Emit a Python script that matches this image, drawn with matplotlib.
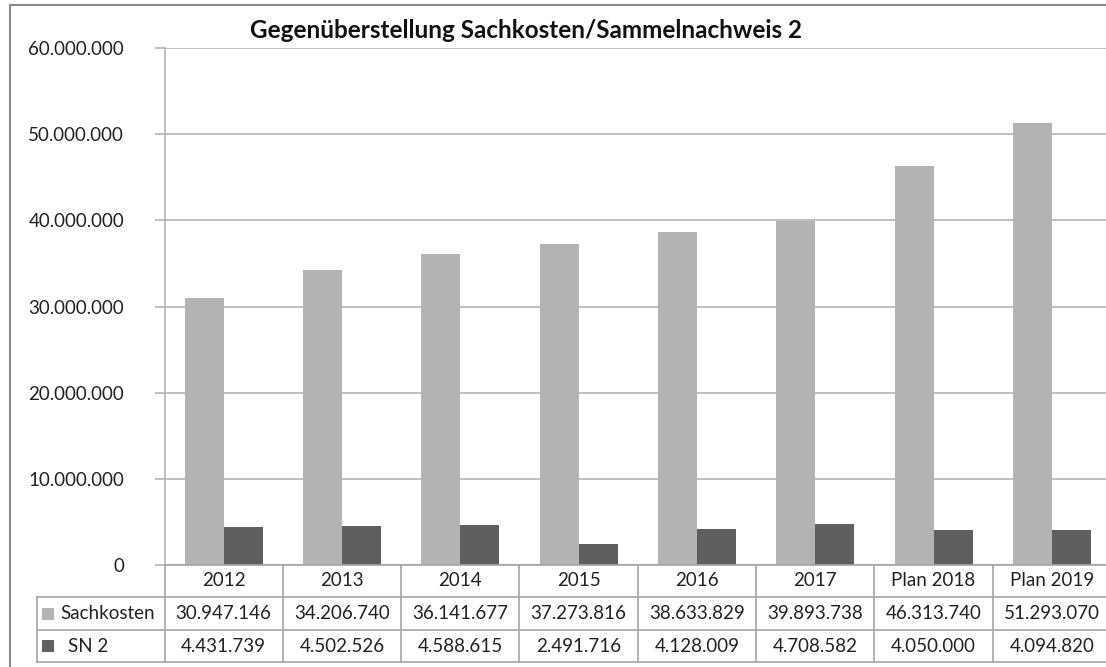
import matplotlib
matplotlib.use("Agg")
import matplotlib.pyplot as plt
from matplotlib.transforms import blended_transform_factory
from matplotlib.patches import Rectangle

categories = ["2012", "2013", "2014", "2015", "2016", "2017", "Plan 2018", "Plan 2019"]
sachkosten = [30947146, 34206740, 36141677, 37273816, 38633829, 39893738, 46313740, 51293070]
sn2 = [4431739, 4502526, 4588615, 2491716, 4128009, 4708582, 4050000, 4094820]
series_names = ["Sachkosten", "SN 2"]
yticks = [0, 10000000, 20000000, 30000000, 40000000, 50000000, 60000000]
title = "Gegenüberstellung Sachkosten/Sammelnachweis 2"

c_light = "#b3b3b3"
c_dark = "#5f5f5f"
grid_c = "#b4b4b4"
border_c = "#a6a6a6"
FONT = "Lato"
TXT = "#222222"

def fmt(v):
    return f"{v:,}".replace(",", ".")

W, H = 1106, 667
fig = plt.figure(figsize=(W / 100, H / 100), dpi=100)
fig.patch.set_facecolor("white")

x0, x1 = 164.5, 1111
y_top, y_bot = 48, 565
ax = fig.add_axes([x0 / W, 1 - y_bot / H, (x1 - x0) / W, (y_bot - y_top) / H])

n = len(categories)
xs = list(range(n))
catw = (x1 - x0) / n
bw = 39 / catw
ax.bar([x - bw / 2 for x in xs], sachkosten, width=bw, color=c_light, zorder=2, edgecolor="none")
ax.bar([x + bw / 2 for x in xs], sn2, width=bw, color=c_dark, zorder=2, edgecolor="none")

ax.set_xlim(-0.5, n - 0.5)
ax.set_ylim(0, 60000000)
ax.set_yticks(yticks)
ax.set_yticklabels([fmt(v) for v in yticks], fontfamily=FONT, fontsize=13.5, color=TXT)
ax.tick_params(axis="y", length=7, width=1.2, color=grid_c, pad=22)
ax.set_xticks([])
for s in ["top", "right", "bottom"]:
    ax.spines[s].set_visible(False)
ax.spines["left"].set_color(grid_c)
ax.spines["left"].set_linewidth(1.2)
ax.grid(axis="y", color=grid_c, linewidth=1.2, zorder=0)

# data table
tr = blended_transform_factory(ax.transData, ax.transAxes)
hpx = y_bot - y_top
rows_px = [565, 597, 630, 662]
rows = [-(r - y_bot) / hpx for r in rows_px]
pxw = n / (x1 - x0)  # data units per pixel
left_hdr = -0.5 - (x0 - 37) * pxw

kw = dict(color=border_c, linewidth=1.2, clip_on=False, transform=tr, zorder=3)
ax.plot([-0.5, n - 0.5], [rows[0], rows[0]], **kw)
for r in rows[1:]:
    ax.plot([left_hdr, n - 0.5], [r, r], **kw)
for i in range(n + 1):
    ax.plot([i - 0.5, i - 0.5], [rows[0], rows[3]], **kw)
ax.plot([left_hdr, left_hdr], [rows[1], rows[3]], **kw)

tkw = dict(transform=tr, ha="center", va="center", fontfamily=FONT, fontsize=13.5,
           color=TXT, clip_on=False)
for i, c in enumerate(categories):
    ax.text(i, (rows[0] + rows[1]) / 2, c, **tkw)
    ax.text(i, (rows[1] + rows[2]) / 2, fmt(sachkosten[i]), **tkw)
    ax.text(i, (rows[2] + rows[3]) / 2, fmt(sn2[i]), **tkw)

# legend keys in table header
for j, (name, col) in enumerate(zip(series_names, [c_light, c_dark])):
    ymid = (rows_px[j + 1] + rows_px[j + 2]) / 2
    fig.patches.append(Rectangle((42 / W, 1 - ymid / H - 6 / H), 12 / W, 12 / H,
                                 transform=fig.transFigure, facecolor=col, edgecolor="none"))
    fig.text((60 if j == 0 else 68) / W, 1 - ymid / H, name,
             ha="left", va="center", fontfamily=FONT, fontsize=13.5, color=TXT)

# title
fig.text(526 / W, 1 - 30 / H, title, ha="center", va="center", fontfamily=FONT,
         fontsize=17.5, fontweight="bold", color="#111111")

# outer frame
fig.add_artist(plt.Line2D([10 / W, 10 / W], [0, 1 - 5 / H], color="#8a8a8a", linewidth=1.5,
                          transform=fig.transFigure))
fig.add_artist(plt.Line2D([10 / W, 1], [1 - 5 / H, 1 - 5 / H], color="#8a8a8a", linewidth=1.5,
                          transform=fig.transFigure))

fig.savefig("out.png", dpi=100, facecolor="white")
